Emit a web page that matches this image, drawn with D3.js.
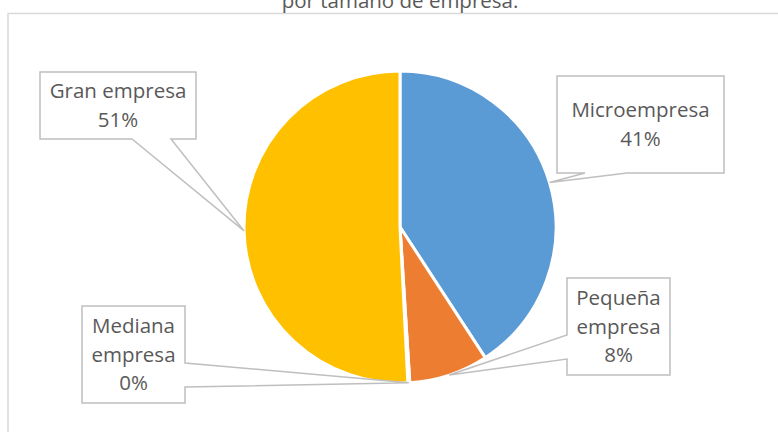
<!DOCTYPE html>
<html>
<head>
<meta charset="utf-8">
<script src="https://cdn.jsdelivr.net/npm/d3@7"></script>
<style>
  body { margin: 0; background: #fff; }
  svg { display: block; }
</style>
</head>
<body>
<div id="chart"></div>
<script>
// data
var categories = ["Microempresa", "Pequeña empresa", "Mediana empresa", "Gran empresa"];
var values = [40.8, 8.2, 0.2, 50.8];
var colors = ["#5B9BD5", "#ED7D31", "#A5A5A5", "#FFC000"];
var labelLines = [["Microempresa"], ["Pequeña", "empresa"], ["Mediana", "empresa"], ["Gran empresa"]];

var width = 778,
    height = 432,
    cx = 400,
    cy = 227,
    radius = 156;

// callout boxes: [x0, y0, x1, y1], which side the pointer leaves from, and where along that side
var boxes = [
  {box: [557, 76, 724, 173], side: "bottom", a: 585, b: 627},
  {box: [567, 278, 670, 375], side: "left", a: 335, b: 359},
  {box: [82, 306, 185, 403], side: "right", a: 363, b: 387},
  {box: [40, 72, 196, 139], side: "bottom", a: 132, b: 171}
];

var svg = d3.select("#chart")
    .append("svg")
    .attr("width", width)
    .attr("height", height);

// chart frame (cut off at the bottom and right)
svg.append("path")
    .attr("d", "M8,440 L8,13.5 L790,13.5")
    .attr("fill", "none")
    .attr("stroke", "#d9d9d9")
    .attr("stroke-width", 1.5);

svg.append("text")
    .attr("x", cx)
    .attr("y", 8)
    .attr("text-anchor", "middle")
    .style("font-family", "'Open Sans', sans-serif")
    .style("font-size", "20.5px")
    .style("fill", "#595959")
    .text("por tamaño de empresa.");

var total = d3.sum(values);
var pct = d3.format(".0%");

var pie = d3.pie().sort(null).value(d => d);
var arcs = pie(values);

var arc = d3.arc().innerRadius(0).outerRadius(radius);
var edge = d3.arc().innerRadius(radius).outerRadius(radius);

var g = svg.append("g").attr("transform", "translate(" + cx + "," + cy + ")");

g.selectAll("path")
    .data(arcs)
    .enter().append("path")
    .attr("d", arc)
    .attr("fill", (d, i) => colors[i])
    .attr("stroke", "#fff")
    .attr("stroke-width", 3)
    .attr("stroke-linejoin", "round");

// callout outline: the box with a wedge going out to the slice edge
function callout(b, tip) {
  var x0 = b.box[0], y0 = b.box[1], x1 = b.box[2], y1 = b.box[3];
  var tx = tip[0], ty = tip[1];
  if (b.side == "bottom") {
    return "M" + x0 + "," + y0 + "L" + x1 + "," + y0 + "L" + x1 + "," + y1 +
      "L" + b.b + "," + y1 + "L" + tx + "," + ty + "L" + b.a + "," + y1 +
      "L" + x0 + "," + y1 + "Z";
  }
  if (b.side == "left") {
    return "M" + x0 + "," + y0 + "L" + x1 + "," + y0 + "L" + x1 + "," + y1 +
      "L" + x0 + "," + y1 + "L" + x0 + "," + b.b + "L" + tx + "," + ty +
      "L" + x0 + "," + b.a + "Z";
  }
  return "M" + x0 + "," + y0 + "L" + x1 + "," + y0 + "L" + x1 + "," + b.a +
    "L" + tx + "," + ty + "L" + x1 + "," + b.b + "L" + x1 + "," + y1 +
    "L" + x0 + "," + y1 + "Z";
}

var lh = 28.5;

arcs.forEach(function(d, i) {
  var b = boxes[i];
  var c = edge.centroid(d);
  var tip = [cx + c[0], cy + c[1]];

  svg.append("path")
      .attr("d", callout(b, tip))
      .attr("fill", "#fff")
      .attr("stroke", "#bfbfbf")
      .attr("stroke-width", 1.5)
      .attr("stroke-linejoin", "miter");

  var lines = labelLines[i].concat([pct(values[i] / total)]);
  var mx = (b.box[0] + b.box[2]) / 2,
      my = (b.box[1] + b.box[3]) / 2;

  var t = svg.append("text")
      .attr("text-anchor", "middle")
      .style("font-family", "'Open Sans', sans-serif")
      .style("font-size", "20.5px")
      .style("fill", "#595959");

  lines.forEach(function(s, k) {
    t.append("tspan")
        .attr("x", mx)
        .attr("y", my + (k - (lines.length - 1) / 2) * lh + 7)
        .text(s);
  });
});
</script>
</body>
</html>
